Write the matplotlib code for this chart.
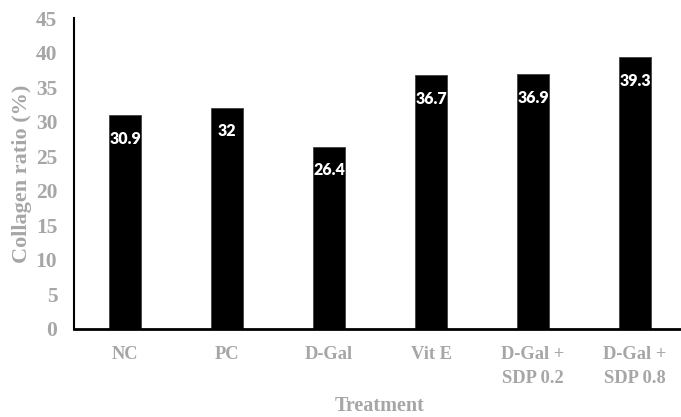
import matplotlib.pyplot as plt

categories = ['NC', 'PC', 'D-Gal', 'Vit E', 'D-Gal +\nSDP 0.2', 'D-Gal +\nSDP 0.8']
values = [30.9, 32, 26.4, 36.7, 36.9, 39.3]
labels = ['30.9', '32', '26.4', '36.7', '36.9', '39.3']
yticks = [0, 5, 10, 15, 20, 25, 30, 35, 40, 45]

grey = '#a6a6a6'
serif = ['Liberation Serif', 'DejaVu Serif']

fig = plt.figure(figsize=(6.81, 4.17), dpi=100)
ax = fig.add_axes([74 / 681, 88 / 417, 607 / 681, 311 / 417])

x = list(range(len(categories)))
ax.bar(x, values, width=0.32, color='black', edgecolor='#404040', linewidth=0.6)

for xi, v, lab in zip(x, values, labels):
    ax.annotate(lab, (xi, v), xytext=(0, -17), textcoords='offset points',
                ha='center', va='center', color='white', fontsize=11.5,
                fontweight='heavy', family=['Lato', 'DejaVu Sans'])

ax.set_xlim(-0.5, 5.45)
ax.set_ylim(0, 45)
ax.set_yticks(yticks)
ax.set_xticks(x)
ax.set_xticklabels(categories, linespacing=1.6)
ax.tick_params(length=0)
ax.tick_params(axis='y', pad=12)
ax.tick_params(axis='x', pad=12)
for t in ax.get_yticklabels():
    t.set_family(serif)
    t.set_fontweight('bold')
    t.set_color(grey)
    t.set_fontsize(15.5)
for t in ax.get_xticklabels():
    t.set_family(serif)
    t.set_fontweight('bold')
    t.set_color(grey)
    t.set_fontsize(13.3)

ax.set_ylabel('Collagen ratio (%)', family=serif, fontweight='bold',
              color=grey, fontsize=16, va='center')
ax.yaxis.set_label_coords(-52 / 607, 0.5)
ax.set_xlabel('Treatment', family=serif, fontweight='bold',
              color=grey, fontsize=14.5, va='center')
ax.xaxis.set_label_coords((380 - 74) / 607, (329 - 406) / 311)

ax.spines['top'].set_visible(False)
ax.spines['right'].set_visible(False)
ax.spines['left'].set_linewidth(1.5)
ax.spines['bottom'].set_linewidth(2)

fig.savefig('out.png', dpi=100)
